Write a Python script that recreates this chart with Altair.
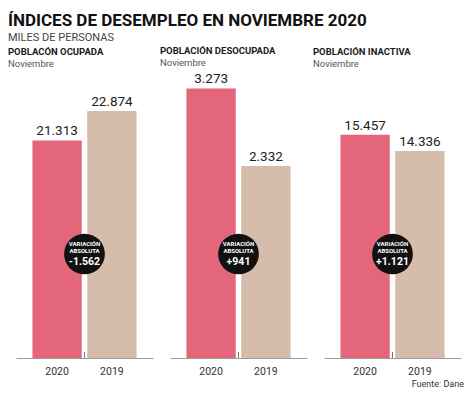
import altair as alt
import pandas as pd

FONT = "Roboto"
YEARS = ["2020", "2019"]
COLORS = ["#E4667A", "#D5BCAB"]

panel_titles = ["POBLACÓN OCUPADA", "POBLACIÓN DESOCUPADA", "POBLACIÓN INACTIVA"]
values_2020 = [21313, 3273, 15457]
values_2019 = [22874, 2332, 14336]
variation_labels = ["-1.562", "+941", "+1.121"]
y_domains = [[9805, 24884], [0, 3461], [0, 19737]]
title_dx = [-8, -10, -11]

W = 137
H = 285
BADGE_Y = H - 104
GAP_OFF = 2.75


def fmt(v):
    return f"{v:,}".replace(",", ".")


def panel(i):
    df = pd.DataFrame({
        "year": YEARS,
        "value": [values_2020[i], values_2019[i]],
    })
    df["label"] = df["value"].map(fmt)

    x = alt.X(
        "year:N", sort=YEARS,
        scale=alt.Scale(paddingInner=0.1, paddingOuter=0.3),
        axis=alt.Axis(title=None, labelAngle=0, ticks=False, tickSize=0,
                      domainColor="#9a9a9a", domainWidth=1.2,
                      labelFont=FONT, labelFontSize=10.5, labelColor="#333333",
                      labelPadding=8),
    )
    y = alt.Y("value:Q", scale=alt.Scale(domain=y_domains[i], zero=False, nice=False),
              axis=None)

    base = alt.Chart(df)
    bars = base.mark_bar().encode(
        x=x, y=y,
        y2=alt.Y2(datum=y_domains[i][0]),
        color=alt.Color("year:N", scale=alt.Scale(domain=YEARS, range=COLORS), legend=None),
    )
    labels = base.mark_text(font=FONT, fontSize=13.5, color="#222222", baseline="bottom", dy=-2).encode(
        x=x, y=y, text="label:N"
    )

    bdf = pd.DataFrame({"year": ["2020"], "var": [variation_labels[i]],
                        "l1": ["VARIACIÓN"], "l2": ["ABSOLUTA"]})
    bx = alt.X("year:N", sort=YEARS, bandPosition=1)
    badge_base = alt.Chart(bdf)
    tick = badge_base.mark_rule(color="#777777", strokeWidth=1, xOffset=GAP_OFF).encode(
        x=bx, y=alt.value(H), y2=alt.value(H - 6)
    )
    circle = badge_base.mark_circle(size=1660, color="#111111", opacity=1, xOffset=GAP_OFF).encode(
        x=bx, y=alt.value(BADGE_Y)
    )
    t1 = badge_base.mark_text(font=FONT, fontSize=6, fontWeight="bold", color="white",
                              baseline="middle", dy=-10.5, dx=GAP_OFF).encode(x=bx, y=alt.value(BADGE_Y), text="l1:N")
    t2 = badge_base.mark_text(font=FONT, fontSize=6, fontWeight="bold", color="white",
                              baseline="middle", dy=-3.5, dx=GAP_OFF).encode(x=bx, y=alt.value(BADGE_Y), text="l2:N")
    t3 = badge_base.mark_text(font=FONT, fontSize=10.5, fontWeight="bold", color="white",
                              baseline="middle", dy=8, dx=GAP_OFF).encode(x=bx, y=alt.value(BADGE_Y), text="var:N")

    layers = [bars, labels, tick, circle, t1, t2, t3]
    if i == 2:
        src = alt.Chart(pd.DataFrame({"t": ["Fuente: Dane"]})).mark_text(
            font=FONT, fontSize=9, color="#333333", align="right", baseline="middle"
        ).encode(x=alt.value(W + 3), y=alt.value(H + 26), text="t:N")
        layers.append(src)

    return alt.layer(*layers).properties(
        width=W, height=H,
        title=alt.TitleParams(
            panel_titles[i], subtitle="Noviembre", anchor="start", dx=title_dx[i],
            font=FONT, fontSize=9.5, fontWeight="bold", color="#1a1a1a",
            subtitleFont=FONT, subtitleFontSize=9.5, subtitleColor="#555555",
            subtitlePadding=2, offset=5,
        ),
    )


chart = alt.hconcat(panel(0), panel(1), panel(2), spacing=17, bounds="flush").properties(
    title=alt.TitleParams(
        "ÍNDICES DE DESEMPLEO EN NOVIEMBRE 2020", subtitle="MILES DE PERSONAS",
        anchor="start", font=FONT, fontSize=17, fontWeight="bold", color="#111111",
        subtitleFont=FONT, subtitleFontSize=11, subtitleColor="#444444",
        subtitlePadding=2.5, offset=2,
    ),
    padding={"left": 0, "top": 3, "right": 0, "bottom": 0},
).configure_view(stroke=None)

chart.save("out.html", embed_options={"renderer": "svg", "actions": False})
